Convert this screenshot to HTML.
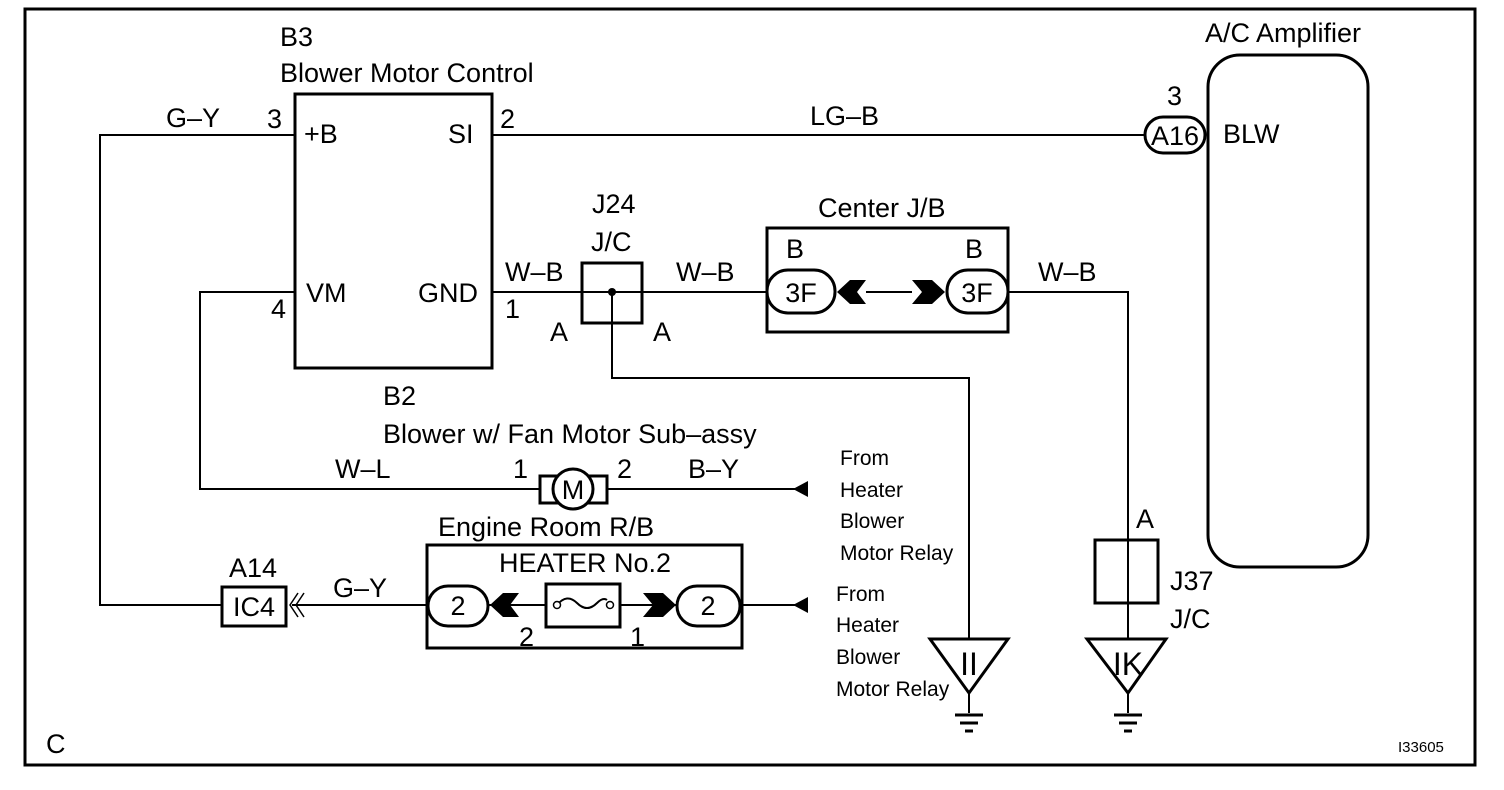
<!DOCTYPE html>
<html><head><style>body{margin:0;background:#fff}svg{display:block}text{font-family:"Liberation Sans",Arial,sans-serif;fill:#000}</style></head><body>
<svg width="1504" height="790" viewBox="0 0 1504 790" xmlns="http://www.w3.org/2000/svg">
<rect x="25" y="9" width="1450" height="756" fill="none" stroke="#000" stroke-width="3"/>
<g fill="none" stroke="#000" stroke-width="2">
<polyline points="295,135 100,135 100,605 222,605"/>
<line x1="492" y1="135" x2="1145" y2="135"/>
<line x1="492" y1="292" x2="767" y2="292"/>
<line x1="866" y1="292" x2="912" y2="292"/>
<polyline points="1008,292 1128,292 1128,638"/>
<polyline points="612,292 612,378 969,378 969,638"/>
<polyline points="295,292 200,292 200,489 540,489"/>
<line x1="607" y1="489" x2="808" y2="489"/>
<line x1="292" y1="605" x2="427" y2="605"/>
<line x1="488" y1="605" x2="546" y2="605"/>
<line x1="620" y1="605" x2="677" y2="605"/>
<line x1="742" y1="605" x2="808" y2="605"/>
<line x1="969" y1="693" x2="969" y2="713"/><line x1="1128" y1="693" x2="1128" y2="713"/>
</g>
<g fill="none" stroke="#000" stroke-width="3">
<rect x="295" y="94" width="197" height="274"/>
<rect x="1208" y="55" width="160" height="512" rx="32"/>
<rect x="582" y="263" width="60" height="60"/>
<rect x="767" y="228" width="241" height="104"/>
<rect x="1095" y="540" width="63" height="63"/>
<rect x="222" y="587" width="64" height="39"/>
<rect x="427" y="545" width="315" height="103"/>
<rect x="546" y="584" width="74" height="43"/>
<rect x="540" y="476" width="67" height="27" fill="#fff"/>
<circle cx="573" cy="489" r="20" fill="#fff"/>
<rect x="1145" y="117" width="60" height="36" rx="18" fill="#fff"/>
<rect x="767" y="270" width="68" height="43" rx="21" fill="#fff"/>
<rect x="947" y="270" width="61" height="43" rx="21" fill="#fff"/>
<rect x="428" y="586" width="60" height="40" rx="20" fill="#fff"/>
<rect x="677" y="586" width="63" height="40" rx="20" fill="#fff"/>
<polygon points="930,639 1008,639 969,693"/>
<polygon points="1087,639 1166,639 1128,693"/>
</g>
<g stroke="#000" stroke-width="3">
<line x1="955" y1="715" x2="983" y2="715"/><line x1="960" y1="723" x2="978" y2="723"/><line x1="965" y1="731" x2="973" y2="731"/>
<line x1="1114" y1="715" x2="1142" y2="715"/><line x1="1119" y1="723" x2="1137" y2="723"/><line x1="1124" y1="731" x2="1132" y2="731"/>
</g>
<line x1="1128" y1="540" x2="1128" y2="603" stroke="#000" stroke-width="2"/>
<circle cx="612" cy="292" r="4"/>
<polygon points="837,292 850,280 866,280 857,292 866,304 850,304"/>
<polygon points="945,292 932,280 912,280 922,292 912,304 932,304"/>
<polygon points="490,605 503,593 519,593 510,605 519,617 503,617"/>
<polygon points="676,605 663,593 643,593 653,605 643,617 663,617"/>
<polygon points="793,489 808,481 808,497"/><polygon points="793,605 808,597 808,613"/>
<g fill="none" stroke="#000" stroke-width="1.5"><polyline points="298,593 290,605 298,617"/><polyline points="304,593 296,605 304,617"/></g>
<path d="M557,605 q10,-12 20,-2 q10,10 20,0 q6,-6 10,-3" fill="none" stroke="#000" stroke-width="2"/>
<circle cx="557" cy="605" r="3.5" fill="#fff" stroke="#000" stroke-width="1.5"/><circle cx="610" cy="605" r="3.5" fill="#fff" stroke="#000" stroke-width="1.5"/>
<g font-size="27">
<text x="280" y="46">B3</text>
<text x="280" y="82">Blower Motor Control</text>
<text x="166" y="127">G–Y</text>
<text x="267" y="128">3</text>
<text x="304" y="143">+B</text>
<text x="448" y="143">SI</text>
<text x="500" y="128">2</text>
<text x="810" y="125">LG–B</text>
<text x="1167" y="105">3</text>
<text x="1223" y="143">BLW</text>
<text x="1205" y="42">A/C Amplifier</text>
<text x="306" y="302">VM</text>
<text x="418" y="302">GND</text>
<text x="271" y="318">4</text>
<text x="505" y="318">1</text>
<text x="505" y="281">W–B</text>
<text x="592" y="213">J24</text>
<text x="591" y="251">J/C</text>
<text x="550" y="341">A</text>
<text x="653" y="341">A</text>
<text x="676" y="281">W–B</text>
<text x="818" y="217">Center J/B</text>
<text x="786" y="258">B</text>
<text x="965" y="258">B</text>
<text x="1038" y="281">W–B</text>
<text x="383" y="405">B2</text>
<text x="383" y="443">Blower w/ Fan Motor Sub–assy</text>
<text x="335" y="478">W–L</text>
<text x="513" y="478">1</text>
<text x="617" y="478">2</text>
<text x="688" y="478">B–Y</text>
<text x="438" y="536">Engine Room R/B</text>
<text x="499" y="572">HEATER No.2</text>
<text x="519" y="646">2</text>
<text x="630" y="646">1</text>
<text x="229" y="577">A14</text>
<text x="333" y="597">G–Y</text>
<text x="1136" y="528">A</text>
<text x="1170" y="590">J37</text>
<text x="1170" y="628">J/C</text>
<text x="46" y="753">C</text>
</g>
<g font-size="27" text-anchor="middle">
<text x="1175" y="145">A16</text>
<text x="801" y="302">3F</text>
<text x="977" y="302">3F</text>
<text x="573" y="499">M</text>
<text x="458" y="615">2</text>
<text x="708" y="615">2</text>
<text x="254" y="616">IC4</text>
</g>
<g font-size="32" text-anchor="middle">
<text x="969" y="675">II</text>
<text x="1128" y="675">IK</text>
</g>
<g font-size="21">
<text x="840" y="465">From</text><text x="840" y="497">Heater</text><text x="840" y="528">Blower</text><text x="840" y="560">Motor Relay</text>
<text x="836" y="601">From</text><text x="836" y="632">Heater</text><text x="836" y="664">Blower</text><text x="836" y="696">Motor Relay</text>
</g>
<text x="1398" y="752" font-size="15">I33605</text>
</svg>
</body></html>
